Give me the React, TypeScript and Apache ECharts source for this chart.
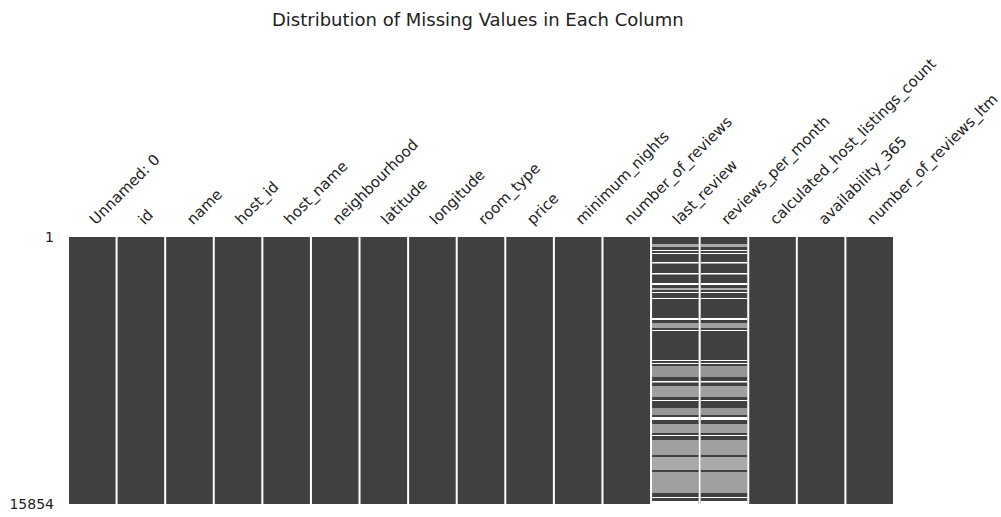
import React, { useEffect, useRef } from "react";
import * as echarts from "echarts";

const columns = [
  "Unnamed: 0", "id", "name", "host_id", "host_name", "neighbourhood",
  "latitude", "longitude", "room_type", "price", "minimum_nights",
  "number_of_reviews", "last_review", "reviews_per_month",
  "calculated_host_listings_count", "availability_365", "number_of_reviews_ltm",
];
const totalRows = 15854;
const rowTicks = [1, 15854];
const columnsWithMissing = ["last_review", "reviews_per_month"];
// [startRow, endRow, share of rows missing in that span]
const missingReviewRows: number[][] = [
  [416, 594, 0.55], [772, 832, 1], [950, 1010, 1], [1485, 1574, 1],
  [2138, 2227, 1], [2732, 2851, 1], [3029, 3148, 0.6], [3267, 3326, 1],
  [3623, 3683, 1], [4811, 4930, 1], [5108, 5405, 0.5], [5524, 5584, 1],
  [7306, 7366, 1], [7484, 7544, 1], [7663, 8316, 0.45], [8554, 8643, 1],
  [8851, 9504, 0.5], [9682, 9742, 1], [10157, 10573, 0.45], [10692, 10870, 1],
  [11108, 11642, 0.5], [11761, 11820, 1], [12058, 12949, 0.5], [13068, 13840, 0.55],
  [13959, 15206, 0.5], [15444, 15503, 1], [15681, 15854, 1],
];

export default function App() {
  const ref = useRef<HTMLDivElement>(null);
  useEffect(() => {
    if (!ref.current) return;
    const chart = echarts.init(ref.current, null, { renderer: "svg" });
    const missingData: number[][] = [];
    columnsWithMissing.forEach((c) => {
      const ci = columns.indexOf(c);
      missingReviewRows.forEach((r) => missingData.push([ci, r[0], r[1], r[2]]));
    });
    chart.setOption({
      animation: false,
      backgroundColor: "#ffffff",
      title: {
        text: "Distribution of Missing Values in Each Column",
        left: 267,
        top: 5,
        textStyle: { fontFamily: "DejaVu Sans", fontSize: 18, fontWeight: "normal", color: "#222" },
      },
      grid: { left: 68, right: 107, top: 237, bottom: 13, containLabel: false, outerBoundsMode: "none" },
      xAxis: {
        type: "category",
        data: columns,
        position: "top",
        axisLine: { show: false },
        axisTick: { show: false },
        splitLine: { show: false },
        axisLabel: {
          rotate: -45,
          interval: 0,
          margin: 15,
          fontFamily: "DejaVu Sans",
          fontSize: 15,
          color: "#222",
        },
      },
      yAxis: {
        type: "value",
        inverse: true,
        min: 1,
        max: totalRows,
        axisLine: { show: false },
        axisTick: { show: false },
        splitLine: { show: false },
        axisLabel: {
          customValues: rowTicks,
          formatter: (v: number) => String(v),
          margin: 14,
          padding: [6, 0, 0, 0],
          fontFamily: "DejaVu Sans",
          fontSize: 14,
          color: "#222",
        },
      },
      series: [
        {
          type: "custom",
          data: columns.map((_, i) => [i]),
          renderItem: (params: any, api: any) => {
            const i = api.value(0);
            const top = api.coord([i, 1]);
            const bot = api.coord([i, totalRows]);
            const bw = api.size([1, 0])[0];
            return {
              type: "rect",
              shape: { x: top[0] - bw / 2 + 1, y: top[1], width: bw - 2, height: bot[1] - top[1] },
              style: { fill: "#404040" },
            };
          },
        },
        {
          type: "custom",
          data: missingData,
          renderItem: (params: any, api: any) => {
            const i = api.value(0);
            const a = api.coord([i, api.value(1)]);
            const b = api.coord([i, api.value(2)]);
            const bw = api.size([1, 0])[0];
            return {
              type: "rect",
              shape: { x: a[0] - bw / 2 + 1, y: a[1], width: bw - 2, height: Math.max(1, b[1] - a[1]) },
              style: { fill: "#ffffff", opacity: api.value(3) },
            };
          },
        },
      ],
    });
    return () => chart.dispose();
  }, []);
  return <div ref={ref} style={{ position: "fixed", left: 0, top: 0, width: 1001, height: 517 }} />;
}
